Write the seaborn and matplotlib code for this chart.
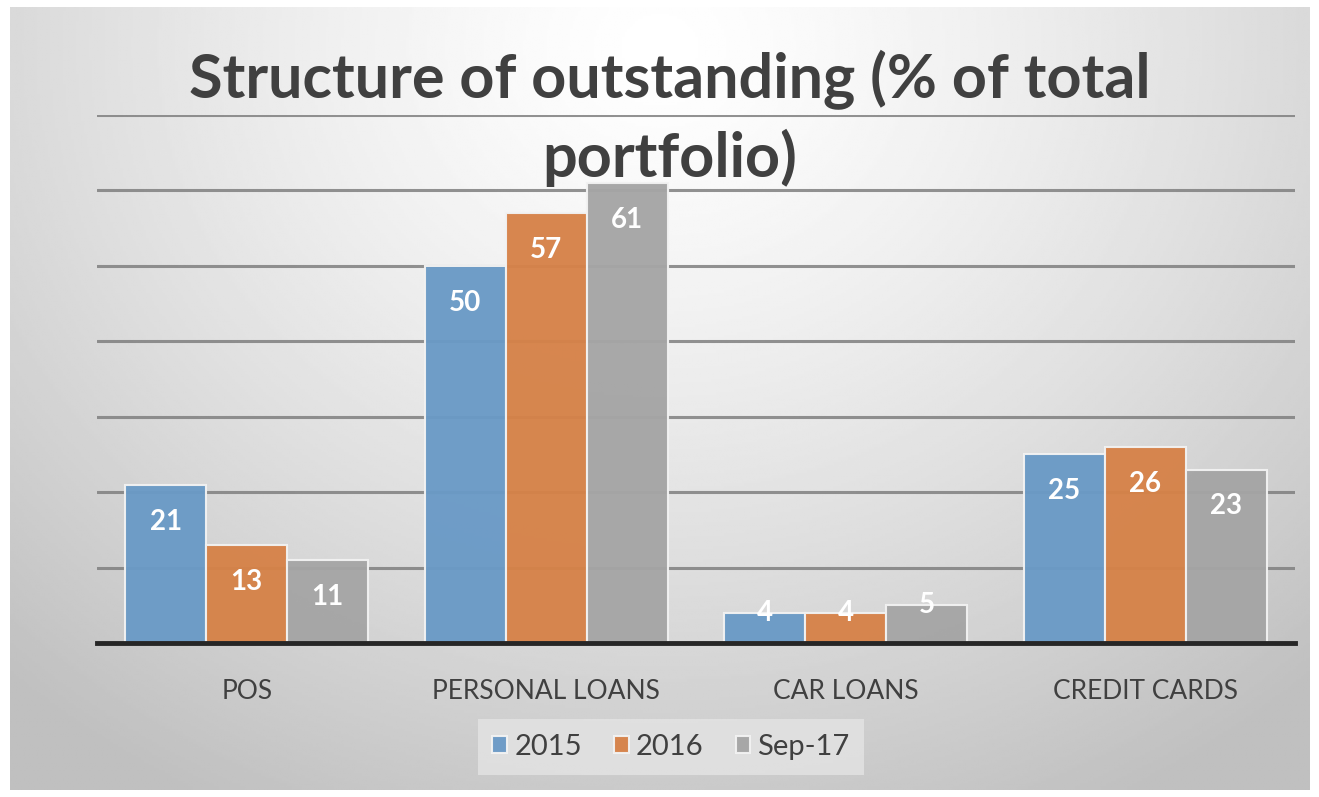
import numpy as np
import pandas as pd
import matplotlib.pyplot as plt
import seaborn as sns

categories = ["POS", "PERSONAL LOANS", "CAR LOANS", "CREDIT CARDS"]
series_names = ["2015", "2016", "Sep-17"]
v2015 = [21, 50, 4, 25]
v2016 = [13, 57, 4, 26]
vsep17 = [11, 61, 5, 23]
colors = ["#5b9bd5", "#ed7d31", "#a5a5a5"]

df = pd.DataFrame({
    "category": categories * 3,
    "series": [s for s in series_names for _ in categories],
    "value": v2015 + v2016 + vsep17,
})

sns.set_theme(style="white")
plt.rcParams["font.family"] = ["Lato", "DejaVu Sans"]

fig = plt.figure(figsize=(13.19, 7.97), dpi=100)
fig.patch.set_facecolor("white")

# radial gray background panel
bg = fig.add_axes([10 / 1319, 7 / 797, 1300 / 1319, 783 / 797])
yy, xx = np.mgrid[0:1:300j, 0:1:500j]
r = np.sqrt(((xx - 0.5) / 0.75) ** 2 + ((yy - 0.05) / 1.1) ** 2)
shade = 1.0 - 0.25 * np.clip(r, 0, 1) ** 1.3
bg.imshow(shade, cmap="gray", vmin=0, vmax=1, aspect="auto", extent=[0, 1, 1, 0])
bg.axis("off")

ax = fig.add_axes([97 / 1319, 154 / 797, 1198 / 1319, 528 / 797])
ax.set_facecolor("none")
sns.barplot(data=df, x="category", y="value", hue="series", palette=colors,
            width=0.81, ax=ax, edgecolor="#f2f2f2", linewidth=1.5, alpha=0.96,
            legend=True)

ax.set_ylim(0, 70)
ax.set_xlim(-0.5, 3.5)
ax.set_yticks(range(10, 71, 10))
ax.yaxis.grid(True, color="#7f7f7f", linewidth=2.2, alpha=0.85)
ax.set_axisbelow(True)
ax.tick_params(left=False, labelleft=False, bottom=False)
ax.set_xlabel("")
ax.set_ylabel("")
for s in ["top", "right", "left"]:
    ax.spines[s].set_visible(False)
ax.spines["bottom"].set_color("#262626")
ax.spines["bottom"].set_linewidth(3.5)
ax.spines["bottom"].set_zorder(5)
for lbl in ax.get_xticklabels():
    lbl.set_fontsize(19)
    lbl.set_color("#404040")
ax.tick_params(axis="x", pad=20)

for cont in ax.containers:
    for bar in cont:
        h = bar.get_height()
        x = bar.get_x() + bar.get_width() / 2
        y = h - 4.9 if h > 8 else h
        ax.text(x, y, f"{h:.0f}", ha="center", va="center", color="white",
                fontsize=20, fontweight="bold", zorder=6)

leg = ax.legend(loc="center", bbox_to_anchor=((671 - 97) / 1198, (797 - 747 - 154) / 528),
                ncol=3, frameon=True, fontsize=21, handlelength=0.5,
                handleheight=0.5, handletextpad=0.25, columnspacing=1.1,
                borderpad=0.5, fancybox=False)
leg.get_frame().set_facecolor("#e4e4e4")
leg.get_frame().set_edgecolor("none")
for t in leg.get_texts():
    t.set_color("#404040")

fig.text(670 / 1319, 1 - 80 / 797, "Structure of outstanding (% of total",
         ha="center", va="center", fontsize=44, fontweight="bold", color="#404040")
fig.text(670 / 1319, 1 - 158 / 797, "portfolio)",
         ha="center", va="center", fontsize=44, fontweight="bold", color="#404040")

fig.savefig("out.png", dpi=100, facecolor="white")
